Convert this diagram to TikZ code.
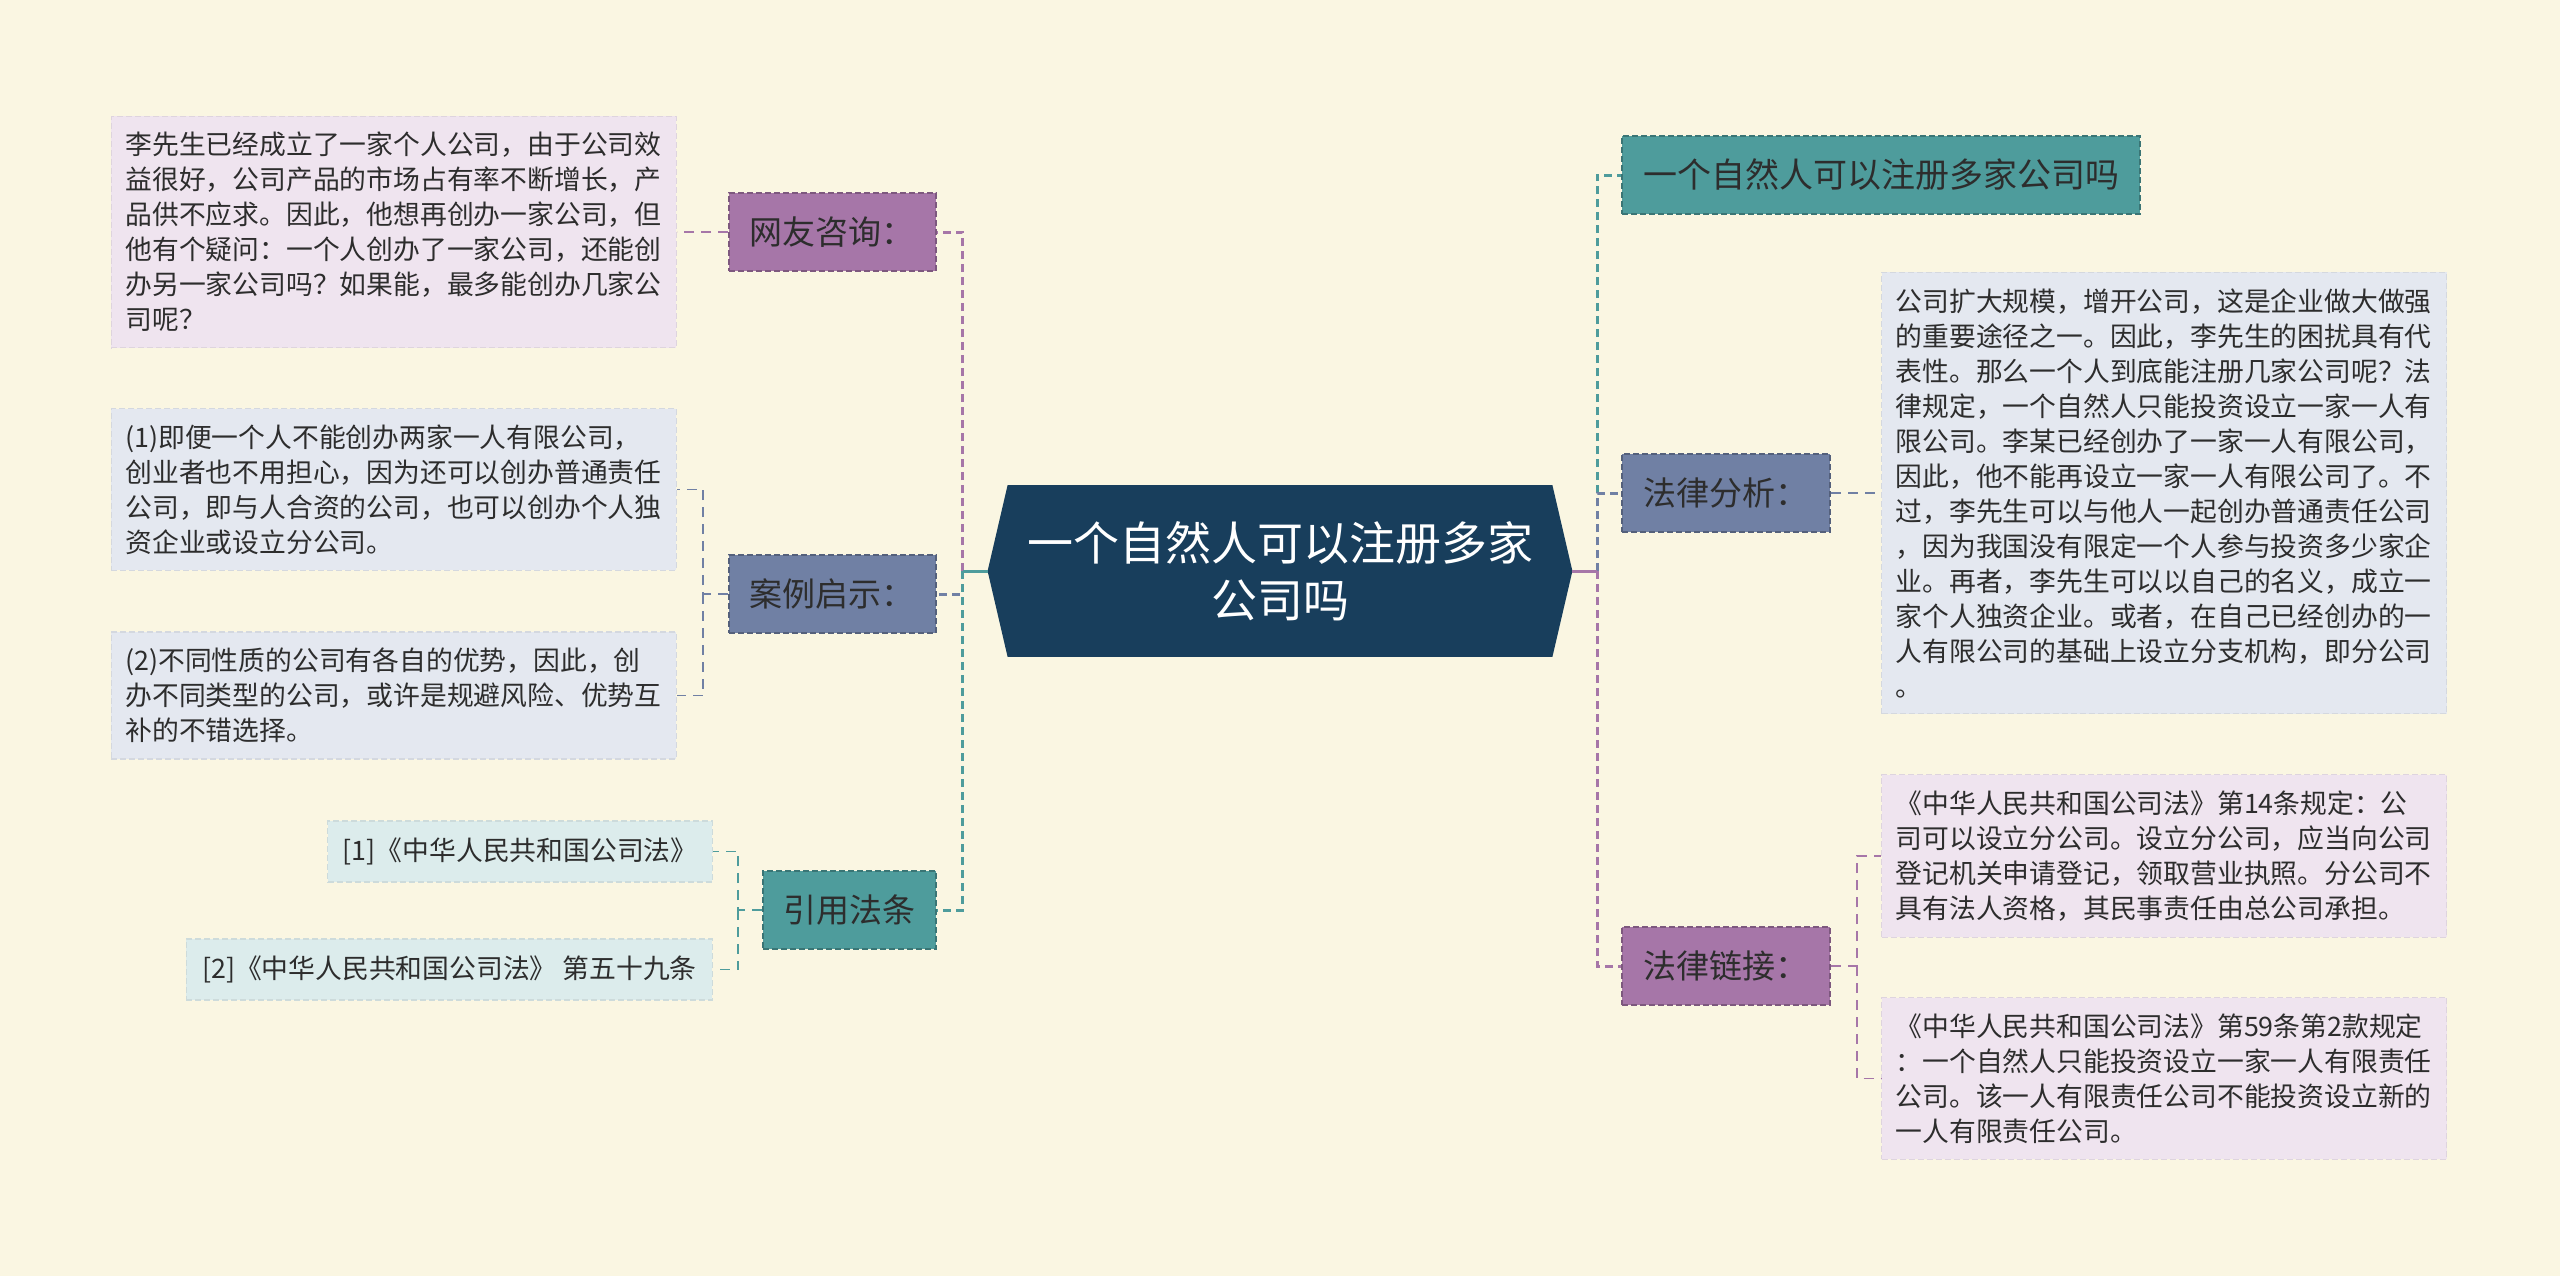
\documentclass[tikz,border=0pt]{standalone}
\usepackage{fontspec}
\setmainfont{Noto Sans CJK SC}
\usetikzlibrary{positioning,calc}

\definecolor{paper}{RGB}{250,246,226}
\definecolor{rootblue}{RGB}{24,62,92}
\definecolor{lilac}{RGB}{166,118,168}
\definecolor{slate}{RGB}{112,128,164}
\definecolor{sea}{RGB}{78,156,156}
\definecolor{lilacbox}{RGB}{239,228,239}
\definecolor{slatebox}{RGB}{228,232,240}
\definecolor{seabox}{RGB}{220,236,236}
\definecolor{ink}{RGB}{45,45,45}

\pgfdeclarelayer{back}
\pgfsetlayers{back,main}

\tikzset{
  branchbox/.style={fill=#1, draw=#1!75!black, dash pattern=on 3pt off 1.5pt, line width=0.8pt,
    text=ink, font=\fontsize{16.5pt}{20pt}\selectfont, minimum height=39pt, inner xsep=9pt},
  leafbox/.style={fill=#1, draw=#1!93!black, dash pattern=on 3pt off 1.5pt, line width=0.6pt,
    text=ink, font=\fontsize{13.4pt}{17.5pt}\selectfont, text width=268.5pt, align=left,
    inner xsep=7pt, inner ysep=8pt},
  citebox/.style={fill=seabox, draw=seabox!93!black, dash pattern=on 3pt off 1.5pt, line width=0.6pt,
    text=ink, font=\fontsize{13.4pt}{17.5pt}\selectfont, minimum height=30.5pt, inner xsep=7.5pt},
  trunk/.style={draw=#1, line width=1.5pt, dash pattern=on 4pt off 2.5pt},
  twig/.style={draw=#1, line width=0.9pt, dash pattern=on 5pt off 3.5pt},
  stub/.style={draw=#1, line width=1.5pt}
}

\begin{document}
\begin{tikzpicture}[x=1pt,y=1pt]
  \useasboundingbox (0,0) rectangle (1280,-638);
  \begin{pgfonlayer}{back}
    \fill[paper] (0,0) rectangle (1280,-638);
  \end{pgfonlayer}

  % centre
  \node[text=white, font=\fontsize{23pt}{28.5pt}\selectfont, align=center,
        minimum width=292pt, minimum height=85.5pt] (root) at (640,-285.5)
        {一个自然人可以注册多家\\公司吗};
  \begin{pgfonlayer}{back}
    \fill[rootblue] (root.west) -- ([xshift=10pt]root.north west) -- ([xshift=-10pt]root.north east)
      -- (root.east) -- ([xshift=-10pt]root.south east) -- ([xshift=10pt]root.south west) -- cycle;
  \end{pgfonlayer}

  % left branches
  \node[branchbox=lilac, minimum width=103.5pt, left=25.5pt of root.west, yshift=169.5pt] (ask) {网友咨询：};
  \node[branchbox=slate, minimum width=103.5pt, left=25.5pt of root.west, yshift=-11.5pt] (case) {案例启示：};
  \node[branchbox=sea, minimum width=86.5pt, left=25.5pt of root.west, yshift=-169.5pt] (cite) {引用法条};

  % right branches
  \node[branchbox=sea, font=\fontsize{17pt}{20pt}\selectfont, minimum width=259pt,
        right=24.5pt of root.east, yshift=198pt] (title) {一个自然人可以注册多家公司吗};
  \node[branchbox=slate, minimum width=104pt, right=24.5pt of root.east, yshift=39pt] (analysis) {法律分析：};
  \node[branchbox=lilac, minimum width=104pt, right=24.5pt of root.east, yshift=-197.5pt] (link) {法律链接：};

  % left leaves
  \node[leafbox=lilacbox, left=25.5pt of ask] (askt)
    {李先生已经成立了一家个人公司，由于公司效\\益很好，公司产品的市场占有率不断增长，产\\品供不应求。因此，他想再创办一家公司，但\\他有个疑问：一个人创办了一家公司，还能创\\办另一家公司吗？如果能，最多能创办几家公\\司呢？};
  \node[leafbox=slatebox, left=25.5pt of case.west, yshift=52.25pt] (c1)
    {(1)即便一个人不能创办两家一人有限公司，\\创业者也不用担心，因为还可以创办普通责任\\公司，即与人合资的公司，也可以创办个人独\\资企业或设立分公司。};
  \node[leafbox=slatebox, left=25.5pt of case.west, yshift=-50.75pt] (c2)
    {(2)不同性质的公司有各自的优势，因此，创\\办不同类型的公司，或许是规避风险、优势互\\补的不错选择。};
  \node[citebox, left=24.5pt of cite.west, yshift=29.25pt] (r1) {[1]《中华人民共和国公司法》};
  \node[citebox, minimum width=263pt, left=24.5pt of cite.west, yshift=-29.75pt] (r2)
    {[2]《中华人民共和国公司法》 第五十九条};

  % right leaves
  \node[leafbox=slatebox, right=25pt of analysis] (at)
    {公司扩大规模，增开公司，这是企业做大做强\\的重要途径之一。因此，李先生的困扰具有代\\表性。那么一个人到底能注册几家公司呢？法\\律规定，一个自然人只能投资设立一家一人有\\限公司。李某已经创办了一家一人有限公司，\\因此，他不能再设立一家一人有限公司了。不\\过，李先生可以与他人一起创办普通责任公司\\，因为我国没有限定一个人参与投资多少家企\\业。再者，李先生可以以自己的名义，成立一\\家个人独资企业。或者，在自己已经创办的一\\人有限公司的基础上设立分支机构，即分公司\\。};
  \node[leafbox=lilacbox, right=25pt of link.east, yshift=55pt] (l1)
    {《中华人民共和国公司法》第14条规定：公\\司可以设立分公司。设立分公司，应当向公司\\登记机关申请登记，领取营业执照。分公司不\\具有法人资格，其民事责任由总公司承担。};
  \node[leafbox=lilacbox, right=25pt of link.east, yshift=-56.25pt] (l2)
    {《中华人民共和国公司法》第59条第2款规定\\：一个自然人只能投资设立一家一人有限责任\\公司。该一人有限责任公司不能投资设立新的\\一人有限责任公司。};

  % trunks
  \coordinate[left=12.5pt of root.west] (lhub);
  \coordinate[right=12.5pt of root.east] (rhub);
  \draw[trunk=slate] (lhub) |- (case);
  \draw[trunk=lilac] (lhub) |- (ask);
  \draw[trunk=sea] (lhub) |- (cite);
  \draw[stub=sea] (root) -- (lhub);
  \draw[trunk=sea] (rhub) |- (title);
  \draw[trunk=slate] (rhub) |- (analysis);
  \draw[trunk=lilac] (rhub) |- (link);
  \draw[stub=lilac] (root) -- (rhub);

  % twigs
  \coordinate[left=12.5pt of case.west] (casehub);
  \coordinate[left=12pt of cite.west] (citehub);
  \coordinate[right=13pt of link.east] (linkhub);
  \draw[twig=lilac] (ask) -- (askt);
  \draw[twig=slate] (case) -- (casehub) |- (c1);
  \draw[twig=slate] (casehub) |- (c2);
  \draw[twig=sea] (cite) -- (citehub) |- (r1);
  \draw[twig=sea] (citehub) |- (r2);
  \draw[twig=slate] (analysis) -- (at);
  \draw[twig=lilac] (link) -- (linkhub) |- (l1);
  \draw[twig=lilac] (linkhub) |- (l2);
\end{tikzpicture}
\end{document}
